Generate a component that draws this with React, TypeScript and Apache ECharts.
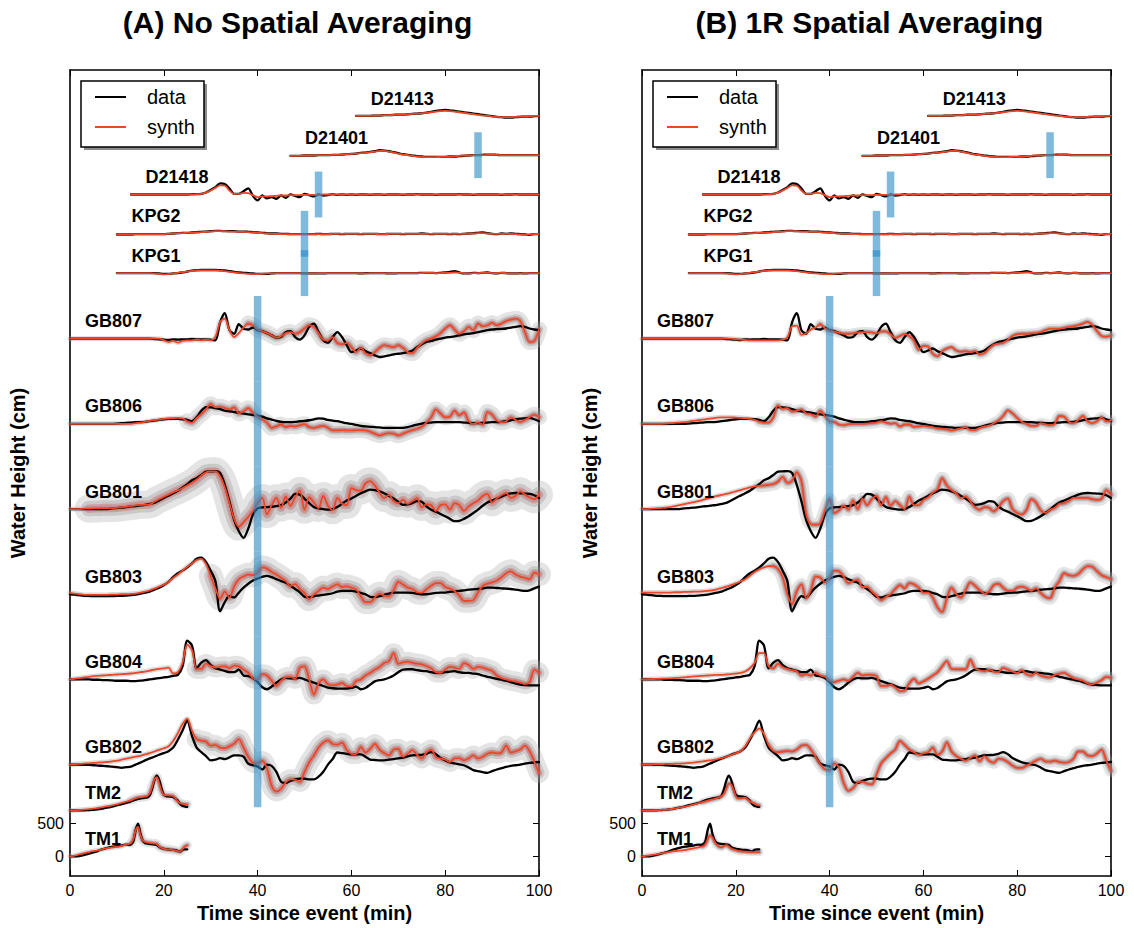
import React, { useEffect, useRef } from "react";
import * as echarts from "echarts";

const FONT = '"Liberation Sans", Arial, Helvetica, sans-serif';

// ---- stations, bottom to top ----
const stationNames = ["TM1", "TM2", "GB802", "GB804", "GB803", "GB801", "GB806", "GB807", "KPG1", "KPG2", "D21418", "D21401", "D21413"];
const stationOffsets = [0, 700, 1400, 2700, 4000, 5300, 6600, 7900, 8900, 9500, 10100, 10700, 11300];
const labelTimes = [3.2, 3.2, 3.2, 3.2, 3.2, 3.2, 3.2, 3.2, 13.1, 13.1, 16.1, 50.1, 64.1];
const startTimes = [0, 0, 0, 0, 0, 0, 0, 0, 10, 10, 13, 47, 61];
const sampleSteps = [0.5, 0.5, 1, 1, 1, 1, 1, 1, 1, 1, 1, 1, 1];

const xTickValues = [0, 20, 40, 60, 80, 100];
const yTickValues = [0, 500];

// ---- waveforms (cm, relative to each station's baseline) ----
const tm1Data = [0, 0, 0, 0, 5, 10, 20, 30, 40, 50, 60, 70, 85, 100, 110, 120, 130, 140, 145, 150, 155, 160, 165, 175, 180, 175, 185, 230, 400, 500, 350, 240, 205, 195, 190, 185, 180, 175, 145, 125, 115, 110, 105, 100, 100, 95, 80, 75, 100, 105, 105];
const tm1SynthA = [0, 5, 10, 20, 30, 40, 50, 58, 65, 75, 80, 85, 90, 100, 110, 120, 125, 130, 135, 140, 145, 150, 160, 170, 180, 185, 200, 260, 400, 450, 330, 240, 220, 210, 205, 200, 195, 190, 150, 130, 115, 110, 105, 100, 95, 90, 80, 75, 110, 150, 170];
const tm1SynthB = [0, 5, 10, 15, 20, 25, 30, 37, 43, 50, 55, 62, 68, 75, 80, 85, 88, 90, 95, 100, 108, 115, 122, 130, 138, 145, 155, 185, 260, 320, 290, 220, 175, 145, 140, 160, 170, 150, 120, 105, 95, 85, 78, 75, 72, 70, 68, 65, 65, 65, 65];

const tm2Data = [0, 0, 0, 0, 0, 0, 2, 4, 6, 8, 10, 14, 18, 22, 30, 38, 45, 52, 60, 70, 80, 88, 96, 105, 115, 125, 140, 155, 165, 175, 185, 190, 195, 200, 230, 330, 460, 530, 470, 340, 240, 220, 215, 210, 205, 180, 150, 100, 70, 60, 55];
const tm2SynthA = [0, 0, 2, 5, 8, 10, 13, 16, 20, 23, 27, 32, 38, 45, 52, 60, 65, 70, 78, 86, 95, 105, 115, 125, 135, 145, 155, 170, 185, 195, 200, 205, 210, 220, 260, 360, 470, 510, 420, 300, 240, 230, 230, 225, 220, 180, 140, 110, 100, 95, 90];
const tm2SynthB = [0, 0, 0, 0, 2, 3, 4, 6, 8, 9, 10, 15, 20, 25, 30, 37, 45, 50, 55, 62, 70, 80, 90, 100, 110, 120, 130, 140, 150, 160, 170, 180, 190, 200, 220, 260, 340, 410, 400, 320, 220, 185, 185, 190, 195, 170, 140, 120, 105, 85, 75];

const gb802Data = [0, 0, 0, -5, -5, -10, -15, -20, -25, -30, -40, -50, -40, -30, 0, 30, 65, 95, 120, 150, 175, 205, 260, 380, 520, 670, 440, 260, 190, 130, 65, 75, 100, 85, 110, 140, 140, 120, 15, -10, -30, -75, 0, -20, -110, -260, -280, -250, -225, -215, -215, -225, -225, -185, -110, 0, 85, 185, 175, 165, 155, 155, 155, 120, 75, 70, 65, 65, 75, 85, 95, 105, 125, 140, 145, 150, 165, 190, 160, 100, 65, 35, 20, 5, -10, -45, -85, -100, -115, -125, -100, -75, -55, -35, -20, -10, 0, 15, 25, 35, 40];
const gb802SynthA = [0, 5, 10, 15, 20, 25, 30, 35, 40, 50, 60, 75, 90, 105, 120, 135, 155, 175, 200, 225, 250, 280, 360, 480, 620, 700, 520, 390, 365, 350, 290, 300, 260, 250, 280, 320, 390, 260, 120, 30, 20, 55, -55, -325, -410, -370, -270, -225, -230, -265, -110, 35, 140, 260, 335, 370, 315, 305, 335, 225, 165, 160, 270, 185, 240, 315, 230, 175, 140, 230, 240, 120, 165, 220, 150, 95, 185, 230, 115, 95, 75, 40, 95, 100, 65, 95, 140, 95, 120, 165, 185, 170, 185, 290, 185, 205, 230, 290, 205, 45, -130];
const gb802SynthB = [0, 0, 0, 5, 5, 10, 10, 15, 15, 20, 25, 30, 40, 50, 60, 70, 85, 100, 120, 145, 175, 205, 280, 400, 490, 550, 470, 300, 210, 190, 200, 210, 200, 230, 290, 300, 230, 120, 10, -70, -80, 20, -40, -280, -400, -360, -270, -260, -290, -300, -150, 20, 100, 170, 230, 360, 300, 230, 190, 150, 170, 190, 260, 150, 200, 340, 200, 130, 90, 60, 100, 140, 50, 130, 60, 30, 90, 80, 40, -15, -50, -50, -15, 20, 60, 90, 50, 45, 60, 40, 30, 40, 90, 200, 200, 140, 130, 170, 230, 60, -95];

const gb804Data = [0, 0, 0, 0, 0, -5, -5, -10, -10, -15, -20, -20, -20, -25, -25, -20, -10, 0, 10, 20, 30, 40, 55, 70, 200, 590, 520, 170, 255, 295, 220, 170, 150, 130, 110, 110, 150, 60, 50, 20, -40, -120, -150, -110, -50, 0, 25, 15, 15, 25, 0, -25, -50, -75, -100, -125, -135, -140, -140, -140, -130, -110, -150, -130, -80, -30, -10, 0, 25, 60, 110, 150, 155, 155, 140, 130, 125, 110, 100, 100, 110, 120, 125, 110, 100, 100, 90, 80, 60, 40, 25, 10, -5, -20, -40, -65, -80, -85, -90, -90, -90];
const gb804SynthA = [0, 10, 20, 30, 40, 50, 55, 60, 65, 70, 75, 80, 85, 90, 100, 110, 120, 135, 150, 160, 170, 180, 90, 110, 255, 530, 450, 160, 160, 240, 205, 180, 195, 200, 170, 210, 200, 150, 100, 20, 0, 80, 60, -20, -100, -20, 30, 40, 10, 180, 200, 0, -230, -60, 0, -75, -90, -80, -55, -100, -110, -25, 0, 60, 100, 150, 190, 250, 280, 400, 240, 260, 270, 255, 240, 230, 205, 170, 110, 100, 150, 190, 180, 160, 250, 220, 160, 190, 180, 155, 130, 60, 20, 0, -20, -30, -50, -70, -40, 150, 100];
const gb804SynthB = [0, 2, 5, 8, 10, 12, 15, 20, 25, 30, 40, 45, 50, 55, 60, 65, 70, 70, 75, 80, 90, 100, 120, 170, 250, 400, 400, 200, 170, 240, 190, 160, 140, 125, 60, 80, 60, 100, 60, 40, -20, -40, -20, 0, -20, 40, 100, 60, 70, 70, 50, -100, -100, -80, -120, -180, -170, -60, 10, -60, -30, 10, 60, 110, 200, 280, 160, 155, 155, 155, 300, 170, 140, 125, 150, 120, 110, 175, 150, 120, 100, 140, 80, 60, 100, 60, 40, 30, 70, 90, 100, 60, 20, 0, -20, -60, -75, -50, -10, 40, 25];

const gb803Data = [0, -5, -15, -25, -25, -30, -30, -30, -30, -30, -25, -25, -20, -15, -5, 10, 25, 40, 70, 100, 140, 190, 260, 320, 360, 410, 470, 540, 560, 490, 360, 200, -260, -120, -30, -50, 25, 100, 160, 210, 240, 265, 280, 260, 230, 200, 175, 130, 80, 30, -40, -50, -30, -20, -10, 0, 15, 40, 50, 50, 50, 40, 20, 0, -40, -45, -30, -10, 10, 25, 25, 25, 25, 20, 10, 0, 0, 10, 20, 25, 25, 35, 45, 50, 60, 70, 75, 80, 90, 100, 100, 95, 90, 85, 80, 70, 60, 50, 60, 90, 115];
const gb803SynthA = [20, 10, 0, -10, -10, -10, -10, -10, -10, -5, -5, 0, 0, 5, 10, 25, 40, 60, 85, 115, 145, 190, 250, 300, 360, 420, 470, 520, 540, 460, 280, 90, -70, 40, -50, 120, 230, 270, 300, 290, 330, 410, 390, 340, 300, 250, 200, 125, 155, 80, 20, -75, -5, 50, 100, 80, 120, 150, 110, 120, 100, 75, -30, -120, -120, -50, 10, -20, -30, 60, 190, 150, 100, 80, 30, 20, 75, 130, 170, 170, 110, 85, 50, -20, -100, -100, -90, 30, 125, 160, 180, 210, 260, 320, 350, 300, 270, 250, 230, 330, 305];
const gb803SynthB = [25, 25, 25, 25, 25, 25, 25, 30, 30, 35, 35, 40, 40, 45, 50, 60, 75, 95, 115, 140, 165, 195, 230, 280, 340, 380, 410, 430, 430, 385, 260, 0, -150, 50, 150, -60, 60, 270, 255, 180, 255, 360, 350, 270, 170, 200, 220, 110, 110, 40, -20, -90, -40, 0, 80, 140, 90, 170, 150, 100, 25, 25, -50, -200, -270, -60, 100, 0, -50, 60, 180, 130, 60, 10, 40, 140, 160, 100, 50, 50, 100, 115, 90, 50, 90, 20, -40, -60, 100, 200, 320, 290, 280, 310, 380, 430, 420, 355, 290, 260, 230];

const gb801Data = [0, 0, 0, 0, 0, 0, 0, 0, 0, 10, 15, 20, 30, 40, 45, 55, 65, 80, 95, 130, 170, 205, 240, 280, 330, 380, 440, 470, 520, 570, 575, 580, 550, 370, 115, -165, -340, -440, -300, -85, 10, 25, 30, 35, 45, 60, 100, 160, 230, 220, 160, 90, 30, 10, 0, -10, 0, 30, 80, 130, 160, 200, 240, 270, 295, 290, 270, 240, 200, 160, 110, 65, 70, 90, 120, 110, 40, -10, -40, -75, -110, -150, -185, -180, -150, -110, -60, -10, 50, 100, 130, 160, 190, 220, 240, 245, 240, 235, 230, 210, 170];
const gb801SynthA = [0, 0, 0, 5, 5, 10, 10, 15, 15, 15, 20, 25, 35, 45, 55, 65, 65, 70, 110, 150, 185, 220, 255, 285, 320, 360, 400, 450, 510, 560, 575, 575, 500, 330, 90, -150, -270, -200, -120, -30, 90, 170, -80, 60, 170, 20, 190, 50, 180, 280, -10, 180, 100, 15, 200, 50, -20, 170, 80, 60, 320, 290, 280, 390, 425, 360, 250, 170, 215, 120, 90, 140, 80, 120, 165, 30, 70, 60, -30, 60, 70, -10, 90, 60, -30, 40, 90, 130, 200, 230, 100, 160, 210, 245, 170, 200, 270, 220, 180, 150, 220];
const gb801SynthB = [0, 0, 5, 10, 15, 20, 30, 45, 60, 75, 90, 105, 120, 140, 160, 180, 200, 215, 230, 250, 270, 290, 310, 330, 345, 355, 360, 370, 380, 420, 490, 400, 430, 560, 420, -80, -230, -240, -220, -30, 150, -60, -20, 50, -10, 130, 0, 160, 60, 150, 200, 60, 180, 50, 120, 60, 0, 190, 60, 60, 140, 180, 250, 300, 470, 360, 290, 240, 170, 190, 120, 30, -10, 30, 20, -35, 30, 120, 160, 0, -60, -80, -10, 150, 100, -20, -60, -10, 20, 80, 90, 125, 170, 170, 170, 170, 150, 140, 160, 290, 220];

const gb806Data = [0, 0, 0, 0, 0, 0, 0, 0, 0, 0, 5, 10, 15, 20, 25, 25, 30, 40, 50, 60, 70, 75, 75, 75, 70, 60, 40, 100, 200, 255, 250, 240, 225, 200, 190, 180, 170, 155, 145, 135, 125, 110, 85, 65, 45, 30, 25, 25, 30, 40, 45, 55, 70, 85, 80, 60, 50, 40, 25, 10, 0, -15, -30, -40, -45, -50, -55, -60, -60, -60, -60, -60, -50, -30, -10, 5, 15, 20, 25, 25, 25, 25, 25, 25, 20, 15, 10, 10, 15, 20, 25, 25, 30, 40, 55, 70, 80, 85, 90, 70, 40];
const gb806SynthA = [0, 0, 0, 0, 0, 0, 0, 0, 0, 0, 0, 0, 0, 0, 10, 20, 30, 45, 55, 65, 75, 80, 85, 90, 85, 40, 20, 90, 150, 220, 300, 250, 260, 240, 220, 250, 160, 190, 240, 170, 110, 70, 20, -60, -40, -10, -45, -30, -40, -20, -5, -50, -60, -45, -30, -60, -100, -100, -95, -100, -100, -95, -95, -100, -120, -150, -175, -155, -140, -150, -175, -150, -120, -95, -75, -45, 20, 100, 220, 160, 100, 110, 200, 130, 175, 40, 0, 20, -10, 180, 140, 50, 25, 40, 100, 60, 30, 60, 100, 140, 100];
const gb806SynthB = [0, 0, 0, 0, 0, 5, 10, 15, 20, 25, 35, 45, 55, 65, 75, 85, 95, 100, 100, 100, 95, 90, 85, 75, 60, 35, 20, 20, 100, 280, 230, 240, 190, 200, 220, 160, 150, 110, 200, 120, 40, 30, -10, -20, -5, 0, 0, 0, 5, 10, 20, 40, 20, 5, 10, -40, -10, -10, -45, -40, -30, -40, -50, -70, -75, -85, -100, -85, -70, -55, -90, -95, -60, -40, -25, 10, 50, 120, 205, 160, 90, 30, 0, -30, -30, 10, -5, -20, 0, 120, 110, 30, 10, 60, 120, 40, 10, 40, 100, 40, 50];

const gb807Data = [0, 0, 0, 0, 0, 0, 0, 0, 0, 0, 0, 0, 0, 0, 0, 0, 0, 0, -5, -10, -15, -20, -10, -15, -10, -10, -5, -10, -10, -10, -15, -25, 250, 390, 130, 75, 220, 150, 140, 170, 130, 115, 85, 50, 15, 25, 100, 115, 25, -15, 50, 180, 230, 100, -25, -65, 25, 100, 25, -100, -205, -180, -150, -190, -220, -255, -280, -270, -255, -240, -230, -220, -205, -180, -130, -85, -50, -35, -15, 0, 15, 25, 35, 50, 65, 75, 85, 100, 115, 130, 140, 145, 150, 155, 170, 180, 190, 180, 155, 140, 130];
const gb807SynthA = [0, 0, 0, 0, 0, 0, 0, 0, 0, 0, 0, 0, 0, 0, 0, 0, 0, 0, 0, 0, -25, -50, -35, -60, -35, -25, -25, -15, -25, -15, -25, 25, 255, 305, 130, 25, 85, 170, 230, 205, 140, 115, 85, 50, 15, 35, 85, 100, 75, 100, 155, 205, 180, 85, -15, -25, 25, -65, -85, -65, -130, -205, -140, -220, -255, -205, -140, -100, -115, -130, -100, -140, -205, -220, -140, -75, -25, 0, 35, 85, 155, 205, 140, 75, 115, 180, 130, 230, 190, 205, 240, 205, 230, 270, 290, 305, 270, 100, -50, -35, 140];
const gb807SynthB = [0, 0, 0, 0, 0, 0, 0, 0, 0, 0, 0, 0, 0, 0, 0, 0, 0, 0, 0, 0, -10, -15, -20, -25, -25, -25, -25, -25, -25, -25, -20, 20, 190, 200, 60, 80, 140, 170, 220, 160, 125, 110, 90, 75, 75, 80, 95, 100, 100, 95, 80, 110, 110, 70, 10, 40, 70, 40, -30, -170, -110, -120, -230, -270, -190, -150, -130, -180, -200, -190, -205, -190, -240, -220, -150, -90, -75, -60, -20, 40, 70, 75, 75, 80, 85, 100, 130, 150, 150, 150, 165, 180, 190, 205, 230, 255, 210, 120, 40, 30, 50];

const kpg1Data = [0, 0, 0, 0, 0, 0, 0, 0, 0, -5, -10, -10, -5, 0, 10, 25, 40, 45, 50, 50, 50, 50, 45, 40, 30, 20, 10, 5, 0, -5, -10, -10, -10, -5, 0, 0, 0, 0, 0, 0, -5, -5, -5, -5, -5, 0, 0, 0, 0, 0, 0, 0, -5, 0, 0, 0, 0, 0, -5, -5, 0, 0, 0, 0, 0, 5, 5, 5, 0, 5, 10, 20, 30, 10, -5, -5, 5, 0, 5, 10, 0, -5, 5, 0, -5, -5, 0, -5, 0, 0, 0];
const kpg1Synth = [0, 0, 0, 0, 0, 0, 0, 0, -5, -10, -20, -15, -5, 5, 15, 25, 35, 40, 40, 40, 40, 40, 35, 30, 20, 10, 0, -5, -10, -15, -15, -10, -5, -5, 0, 0, 0, 0, 0, 0, -5, -5, -5, 0, 0, 0, 0, 0, 0, 0, 0, 0, -5, -5, 0, 0, 0, 0, -5, 0, 0, 0, 0, 0, 0, 0, 5, 5, 0, 0, 5, 5, 10, 5, 0, -5, 0, 0, 5, 5, 0, 0, 5, 0, -5, -5, -5, 0, 0, 0, 0];

const kpg2Data = [-10, -10, -10, -10, -5, -5, -5, -5, -5, -5, -5, 0, 5, 10, 15, 15, 20, 25, 30, 35, 40, 45, 45, 40, 40, 40, 35, 35, 30, 25, 20, 15, 10, 5, 5, 0, 0, -5, -5, -5, -5, -5, -5, 0, -5, -5, 0, 0, -5, 0, 0, 0, -5, 0, 0, 0, -5, -5, 0, 0, 0, -5, 0, 0, 0, 5, 0, -5, 0, 0, 0, -5, 0, -5, 0, 5, 10, 15, 20, 10, 0, -5, 5, 0, 5, 0, -5, -10, -15, -5, 0];
const kpg2Synth = [-10, -10, -10, -10, -5, -5, -5, -5, -5, -5, -5, 0, 5, 10, 10, 15, 15, 20, 25, 30, 35, 40, 40, 40, 35, 35, 30, 30, 25, 20, 15, 10, 5, 0, 0, -5, -5, -5, -5, -5, -5, -5, -5, -5, -5, -5, 0, 0, 0, 0, 0, 0, 0, 0, 0, 0, -5, -5, 0, 0, 0, 0, 0, 0, 0, 0, 0, 0, 0, 0, 0, 0, 0, 0, 0, 5, 5, 10, 10, 5, 0, 0, 0, 0, 0, -5, -10, -15, -10, -5, 0];

const d21418Data = [0, 0, 0, 0, 0, 0, 0, 0, 0, 0, 0, 0, 0, 5, 5, 10, 30, 70, 110, 170, 160, 90, 10, 10, 50, 95, -20, -90, -15, -60, -40, -65, -15, -50, 0, -20, -40, 10, -10, -30, 0, -15, -10, 5, -5, 0, -5, 0, -5, 0, 0, -5, 0, 0, -5, 0, 0, 0, -5, 0, 0, 5, 0, 0, 0, -5, 0, 0, 0, 0, 5, 0, 0, -5, 0, 0, 0, 0, 0, -5, 0, 0, 5, 0, 0, 0, 0, 0];
const d21418Synth = [0, 0, 0, 0, 0, 0, 0, 0, 0, 0, 0, 0, 0, 0, 5, 10, 30, 60, 100, 140, 135, 60, 10, 10, 25, 20, -10, -40, -30, -30, -25, -20, -15, -15, -10, -10, -10, -5, -5, -5, -5, 0, 0, 0, 0, 0, 0, 0, 0, 0, 0, 0, 0, 0, 0, 0, 0, 0, 0, 0, 0, 0, 0, 0, 0, 0, 0, 0, 0, 0, 0, 0, 0, 0, 0, 0, 0, 0, 0, 0, 0, 0, 0, 0, 0, 0, 0, 0];

const d21401Data = [-10, -10, -10, -5, -5, -5, 0, 0, 0, 5, 5, 10, 15, 20, 25, 35, 40, 50, 60, 75, 70, 60, 45, 30, 15, 5, -5, -15, -20, -25, -25, -25, -25, -25, -20, -20, -15, -10, -5, 0, 0, 5, 10, 10, 5, 0, 0, 0, 0, 0, 0, 0, 0, 0];
const d21401Synth = [-10, -10, -10, -5, -5, -5, 0, 0, 0, 5, 5, 10, 15, 20, 25, 30, 35, 45, 55, 65, 65, 55, 40, 25, 10, 0, -10, -20, -25, -30, -30, -30, -25, -25, -20, -15, -10, -5, -5, 0, 0, 0, 5, 5, 5, 0, 0, 0, 0, 0, 0, 0, 0, 0];

const d21413Data = [0, 0, 0, 0, 5, 5, 10, 10, 15, 20, 20, 25, 30, 35, 40, 50, 60, 75, 85, 90, 85, 75, 65, 55, 45, 35, 25, 15, 5, -5, -15, -20, -25, -25, -20, -15, -10, -10, -5, 0];
const d21413Synth = [0, 0, 0, 0, 5, 5, 10, 10, 15, 20, 20, 25, 30, 35, 40, 45, 55, 65, 72, 75, 72, 65, 55, 45, 35, 25, 15, 5, 0, -10, -15, -20, -20, -20, -15, -10, -10, -5, 0, 0];

const observed = [tm1Data, tm2Data, gb802Data, gb804Data, gb803Data, gb801Data, gb806Data, gb807Data, kpg1Data, kpg2Data, d21418Data, d21401Data, d21413Data];
const synthNoAveraging = [tm1SynthA, tm2SynthA, gb802SynthA, gb804SynthA, gb803SynthA, gb801SynthA, gb806SynthA, gb807SynthA, kpg1Synth, kpg2Synth, d21418Synth, d21401Synth, d21413Synth];
const synthAveraged = [tm1SynthB, tm2SynthB, gb802SynthB, gb804SynthB, gb803SynthB, gb801SynthB, gb806SynthB, gb807SynthB, kpg1Synth, kpg2Synth, d21418Synth, d21401Synth, d21413Synth];

// arrival windows (blue bars)
const windowStations = ["D21401", "D21418", "KPG2", "KPG1", "GB807", "GB806", "GB801", "GB803", "GB804", "GB802"];
const windowTimes = [87, 53, 50, 50, 40, 40, 40, 40, 40, 40];
const windowHalfSpans = [350, 350, 350, 350, 650, 650, 650, 650, 650, 650];

// ---- styling of the ensemble spread (pixel widths, start time of the wide band) ----
const spreadA: Record<string, { width: number; from: number }> = {
  TM1: { width: 9, from: 13 },
  TM2: { width: 9, from: 13 },
  GB802: { width: 20, from: 27 },
  GB804: { width: 20, from: 27 },
  GB803: { width: 24, from: 30 },
  GB801: { width: 28, from: 4 },
  GB806: { width: 16, from: 25 },
  GB807: { width: 16, from: 38 },
};
const spreadB: Record<string, { width: number; from: number }> = {
  TM1: { width: 8, from: 13 },
  TM2: { width: 8, from: 13 },
  GB802: { width: 12, from: 27 },
  GB804: { width: 11, from: 27 },
  GB803: { width: 13, from: 28 },
  GB801: { width: 13, from: 25 },
  GB806: { width: 11, from: 25 },
  GB807: { width: 10, from: 38 },
};

const panels = [
  { title: "(A) No Spatial Averaging", left: 70, synth: synthNoAveraging, spread: spreadA },
  { title: "(B) 1R Spatial Averaging", left: 642, synth: synthAveraged, spread: spreadB },
];

const GRID_TOP = 70;
const GRID_W = 469;
const GRID_H = 806;
const WINDOW_HALF_WIDTH = 0.8;
const SYNTH_COLOR = "#ee4629";

function toPoints(start: number, step: number, vals: number[], offset: number) {
  return vals.map((v, k) => [start + k * step, v + offset]);
}

function lineSeries(p: number, data: number[][], width: number, color: string, z: number, smooth: number) {
  return {
    type: "line",
    xAxisIndex: p * 2,
    yAxisIndex: p * 2,
    data,
    showSymbol: false,
    symbol: "none",
    smooth,
    silent: true,
    z,
    lineStyle: { width, color, join: "round", cap: "round", opacity: 1 },
    emphasis: { disabled: true },
  };
}

function buildOption() {
  const grid: any[] = [];
  const xAxis: any[] = [];
  const yAxis: any[] = [];
  const series: any[] = [];
  const graphic: any[] = [];
  const axisLine = { show: true, onZero: false, lineStyle: { color: "#000", width: 1.6 } };

  panels.forEach((panel, p) => {
    grid.push({ left: panel.left, top: GRID_TOP, width: GRID_W, height: GRID_H, outerBoundsMode: "none" });
    xAxis.push({
      gridIndex: p, type: "value", min: 0, max: 100, interval: 20, position: "bottom",
      axisLine, splitLine: { show: false },
      axisTick: { inside: true, length: 6, lineStyle: { color: "#000", width: 1 }, customValues: xTickValues },
      axisLabel: { color: "#000", fontSize: 16, fontFamily: FONT, margin: 6, customValues: xTickValues },
      name: "Time since event (min)", nameLocation: "middle", nameGap: 25,
      nameTextStyle: { color: "#000", fontSize: 20, fontWeight: "bold", fontFamily: FONT },
    });
    xAxis.push({
      gridIndex: p, type: "value", min: 0, max: 100, interval: 20, position: "top",
      axisLine, splitLine: { show: false },
      axisTick: { inside: true, length: 6, lineStyle: { color: "#000", width: 1 } },
      axisLabel: { show: false },
    });
    yAxis.push({
      gridIndex: p, type: "value", min: -300, max: 12000, position: "left",
      axisLine, splitLine: { show: false },
      axisTick: { inside: true, length: 6, lineStyle: { color: "#000", width: 1 }, customValues: yTickValues },
      axisLabel: { color: "#000", fontSize: 16, fontFamily: FONT, margin: 6, customValues: yTickValues },
      name: "Water Height (cm)", nameLocation: "middle", nameGap: 42, nameRotate: 90,
      nameTextStyle: { color: "#000", fontSize: 20, fontWeight: "bold", fontFamily: FONT },
    });
    yAxis.push({
      gridIndex: p, type: "value", min: -300, max: 12000, position: "right",
      axisLine, splitLine: { show: false },
      axisTick: { inside: true, length: 6, lineStyle: { color: "#000", width: 1 }, customValues: yTickValues },
      axisLabel: { show: false },
    });

    stationNames.forEach((name, i) => {
      const off = stationOffsets[i];
      const start = startTimes[i];
      const step = sampleSteps[i];
      const synthPts = toPoints(start, step, panel.synth[i], off);
      const dataPts = toPoints(start, step, observed[i], off);
      const sp = panel.spread[name];
      const smooth = 0.3;
      if (sp) {
        series.push(lineSeries(p, synthPts, 5, "rgba(150,150,150,0.35)", 1, smooth));
        const wide = synthPts.filter((pt) => pt[0] >= sp.from);
        series.push(lineSeries(p, wide, sp.width, "rgba(170,170,170,0.32)", 1, smooth));
        series.push(lineSeries(p, wide, sp.width * 0.55, "rgba(140,140,140,0.3)", 1, smooth));
        series.push(lineSeries(p, wide, Math.max(3, sp.width * 0.3), "rgba(215,35,35,0.25)", 1, smooth));
      }
      series.push(lineSeries(p, dataPts, 2.3, "#000000", 3, smooth));
      series.push(lineSeries(p, synthPts, 1.8, SYNTH_COLOR, 4, smooth));
    });

    // station labels
    series.push({
      type: "scatter", xAxisIndex: p * 2, yAxisIndex: p * 2, symbolSize: 0, silent: true, z: 6,
      itemStyle: { opacity: 1, color: "#000" },
      data: stationNames.map((name, i) => ({ name, value: [labelTimes[i], stationOffsets[i] + 265] })),
      label: {
        show: true, position: "right", distance: 0, formatter: "{b}", opacity: 1,
        color: "#000", fontSize: 18, fontWeight: "bold", fontFamily: FONT,
      },
      emphasis: { disabled: true },
    });

    // arrival windows
    series.push({
      type: "custom", xAxisIndex: p * 2, yAxisIndex: p * 2, silent: true, z: 8,
      data: windowStations.map((s, k) => {
        const off = stationOffsets[stationNames.indexOf(s)];
        return [windowTimes[k], off - windowHalfSpans[k], off + windowHalfSpans[k]];
      }),
      encode: { x: 0, y: [1, 2] },
      renderItem: (_params: any, api: any) => {
        const t = api.value(0);
        const a = api.coord([t - WINDOW_HALF_WIDTH, api.value(2)]);
        const b = api.coord([t + WINDOW_HALF_WIDTH, api.value(1)]);
        return {
          type: "rect",
          shape: { x: a[0], y: a[1], width: b[0] - a[0], height: b[1] - a[1] },
          style: { fill: "rgba(42,139,197,0.6)" },
        };
      },
    });

    // panel title
    graphic.push({
      type: "text", x: panel.left + GRID_W / 2 - 7, y: 22, silent: true,
      style: { text: panel.title, fontSize: 30, fontWeight: "bold", fontFamily: FONT, fill: "#000", align: "center", verticalAlign: "middle" },
    });

    // legend box
    const lx = panel.left + 11;
    const ly = 81;
    graphic.push({ type: "rect", silent: true, shape: { x: lx + 3, y: ly + 3, width: 123, height: 66 }, style: { fill: "rgba(0,0,0,0.45)" }, z: 10 });
    graphic.push({ type: "rect", silent: true, shape: { x: lx, y: ly, width: 123, height: 66 }, style: { fill: "#fff", stroke: "#000", lineWidth: 1.5 }, z: 11 });
    graphic.push({ type: "line", silent: true, shape: { x1: lx + 14, y1: ly + 16, x2: lx + 45, y2: ly + 16 }, style: { stroke: "#000", lineWidth: 2 }, z: 12 });
    graphic.push({ type: "line", silent: true, shape: { x1: lx + 14, y1: ly + 46, x2: lx + 45, y2: ly + 46 }, style: { stroke: SYNTH_COLOR, lineWidth: 2 }, z: 12 });
    graphic.push({ type: "text", silent: true, x: lx + 66, y: ly + 16, z: 12, style: { text: "data", fontSize: 20, fontFamily: FONT, fill: "#000", verticalAlign: "middle" } });
    graphic.push({ type: "text", silent: true, x: lx + 66, y: ly + 46, z: 12, style: { text: "synth", fontSize: 20, fontFamily: FONT, fill: "#000", verticalAlign: "middle" } });
  });

  return { animation: false, backgroundColor: "#fff", grid, xAxis, yAxis, series, graphic };
}

export default function App() {
  const ref = useRef<HTMLDivElement>(null);
  useEffect(() => {
    document.body.style.margin = "0";
    if (!ref.current) return;
    const chart = echarts.init(ref.current, null, { renderer: "svg" });
    chart.setOption(buildOption() as any);
    return () => chart.dispose();
  }, []);
  return <div ref={ref} style={{ width: 1134, height: 928 }} />;
}
